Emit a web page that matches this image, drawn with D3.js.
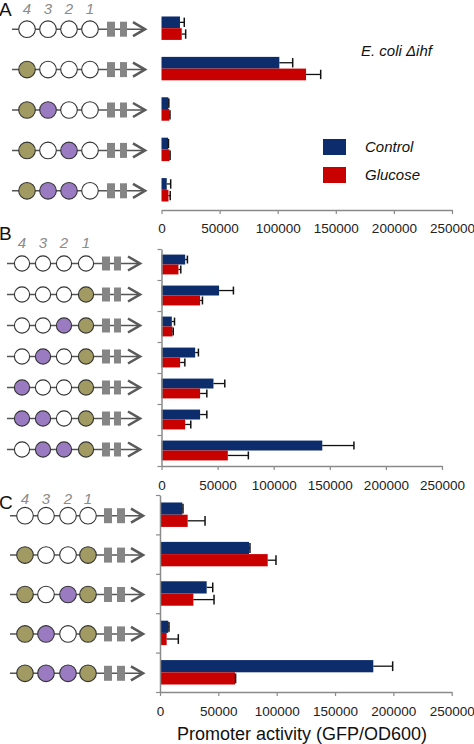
<!DOCTYPE html>
<html><head><meta charset="utf-8">
<script src="https://cdn.jsdelivr.net/npm/d3@7"></script>
<style>
html,body{margin:0;padding:0;background:#fff;}
svg{display:block;font-family:"Liberation Sans",Arial,sans-serif;}
</style></head>
<body>
<svg id="chart" width="474" height="744"></svg>
<script>
// ---------- DATA ----------
const tickValues = [0, 50000, 100000, 150000, 200000, 250000];
const seriesNames = ["Control", "Glucose"];
const siteLabels = ["4", "3", "2", "1"];

// construct states, left (site 4) to right (site 1): o = empty, g = olive, p = purple
const constructsA = ["oooo", "gooo", "gpoo", "gopo", "gppo"];
const controlA = [15900, 101400, 5900, 5600, 4500];
const controlErrA = [3700, 11500, 400, 400, 3400];
const glucoseA = [17400, 124400, 6700, 6900, 6000];
const glucoseErrA = [3400, 12600, 600, 500, 1500];

const constructsB = ["oooo", "ooog", "oopg", "opog", "poog", "ppog", "oppg"];
const controlB = [21100, 51300, 9200, 30000, 46300, 34400, 143300];
const controlErrB = [2000, 12800, 2400, 2900, 10100, 6000, 28200];
const glucoseB = [15100, 34400, 9800, 16600, 34400, 21100, 59100];
const glucoseErrB = [2100, 2100, 700, 4200, 6000, 5000, 18300];

const constructsC = ["oooo", "goog", "gopg", "gpog", "gppg"];
const controlC = [19100, 76300, 40000, 7100, 182800];
const controlErrC = [600, 800, 5200, 600, 16600];
const glucoseC = [23700, 92300, 28600, 5700, 64300];
const glucoseErrC = [14900, 7100, 17700, 10000, 500];

// ---------- STYLE ----------
const colors = { Control: "#0c2c6c", Glucose: "#c80000" };
const siteFill = { o: "#ffffff", g: "#a19a62", p: "#9a7bc2" };
const axisColor = "#8a8a8a";

const svg = d3.select("#chart");

function panel(cfg) {
  const n = cfg.constructs.length;
  const x = d3.scaleLinear().domain([0, 250000]).range([cfg.x0, cfg.x1]);
  const y = d3.scaleBand().domain(d3.range(n)).range([cfg.yTop, cfg.yBot]).paddingInner(cfg.pad).paddingOuter(cfg.pad / 2);
  const sub = d3.scaleBand().domain(seriesNames).range([0, y.bandwidth()]);
  const g = svg.append("g");

  const rows = d3.range(n).map(i => ({
    i,
    vals: [
      { s: "Control", v: cfg.control[i], e: cfg.controlErr[i] },
      { s: "Glucose", v: cfg.glucose[i], e: cfg.glucoseErr[i] }
    ]
  }));

  // bars
  rows.forEach(r => {
    r.vals.forEach(d => {
      const yy = y(r.i) + sub(d.s);
      g.append("rect")
        .attr("x", x(0)).attr("y", yy)
        .attr("width", x(d.v) - x(0)).attr("height", sub.bandwidth())
        .attr("fill", colors[d.s]);
      const cy = yy + sub.bandwidth() / 2;
      g.append("line")
        .attr("x1", x(d.v)).attr("x2", x(d.v + d.e))
        .attr("y1", cy).attr("y2", cy)
        .attr("stroke", "#111").attr("stroke-width", 1.3);
      g.append("line")
        .attr("x1", x(d.v + d.e)).attr("x2", x(d.v + d.e))
        .attr("y1", cy - sub.bandwidth() * 0.4).attr("y2", cy + sub.bandwidth() * 0.4)
        .attr("stroke", "#111").attr("stroke-width", 1.5);
    });
  });

  // x axis
  const xa = g.append("g").attr("transform", `translate(0,${cfg.axisY})`)
    .call(d3.axisBottom(x).tickValues(tickValues).tickFormat(d3.format("d")).tickSize(4).tickPadding(cfg.tickPad).tickSizeOuter(0));
  xa.select(".domain").attr("stroke", axisColor).attr("stroke-width", 1.5);
  xa.selectAll(".tick line").attr("stroke", axisColor).attr("stroke-width", 1.2);
  xa.selectAll(".tick text").attr("fill", "#222").attr("font-size", "13.5px")
    .attr("font-family", "'Liberation Sans',Arial,sans-serif");

  // y axis (row boundaries)
  if (cfg.yAxis) {
    const yb = d3.scaleLinear().domain([0, n]).range([cfg.yTop, cfg.yBot]);
    const ya = g.append("g").attr("transform", `translate(${cfg.x0},0)`)
      .call(d3.axisLeft(yb).tickValues(d3.range(n + 1)).tickFormat("").tickSize(4).tickSizeOuter(0));
    ya.select(".domain").attr("stroke", axisColor).attr("stroke-width", 1.5);
    ya.selectAll(".tick line").attr("stroke", axisColor).attr("stroke-width", 1.2);
  }

  // panel letter and site numbers
  g.append("text").attr("x", -1).attr("y", cfg.letterY).text(cfg.letter)
    .attr("font-size", "19px").attr("fill", "#111");
  siteLabels.forEach((s, k) => {
    g.append("text").attr("x", cfg.cx[k]).attr("y", cfg.numY).text(s)
      .attr("text-anchor", "middle").attr("font-size", "15px").attr("font-style", "italic").attr("fill", "#8a8a8a");
  });

  // construct diagrams
  cfg.constructs.forEach((c, i) => {
    const cy = y(i) + y.bandwidth() / 2 + cfg.dyC;
    const cg = g.append("g");
    cg.append("line").attr("x1", cfg.lineX0).attr("x2", cfg.tip - 1).attr("y1", cy).attr("y2", cy)
      .attr("stroke", "#555").attr("stroke-width", 1.5);
    cfg.rects.forEach(rx => {
      cg.append("rect").attr("x", rx[0]).attr("y", cy - cfg.rh / 2).attr("width", rx[1] - rx[0]).attr("height", cfg.rh)
        .attr("fill", "#858585");
    });
    cg.append("path")
      .attr("d", `M${cfg.tip - 12},${cy - 7} L${cfg.tip},${cy} L${cfg.tip - 12},${cy + 7}`)
      .attr("fill", "none").attr("stroke", "#5a5a5a").attr("stroke-width", 2.6).attr("stroke-linejoin", "miter");
    c.split("").forEach((st, k) => {
      cg.append("circle").attr("cx", cfg.cx[k]).attr("cy", cy).attr("r", cfg.r)
        .attr("fill", siteFill[st]).attr("stroke", "#333").attr("stroke-width", 1.1);
    });
  });
  return { x, y };
}

panel({
  letter: "A", letterY: 16, numY: 14,
  constructs: constructsA, control: controlA, controlErr: controlErrA, glucose: glucoseA, glucoseErr: glucoseErrA,
  x0: 161.5, x1: 452, yTop: 8, yBot: 210, pad: 0.42, axisY: 210, tickPad: 9, yAxis: false,
  cx: [27, 48, 69, 90], r: 8.3, rects: [[107, 115], [120, 127]], rh: 15, lineX0: 12, tip: 145, dyC: 1
});

panel({
  letter: "B", letterY: 240, numY: 248,
  constructs: constructsB, control: controlB, controlErr: controlErrB, glucose: glucoseB, glucoseErr: glucoseErrB,
  x0: 161.5, x1: 442, yTop: 249, yBot: 466, pad: 0.36, axisY: 466, tickPad: 10, yAxis: true,
  cx: [22, 43, 64, 86], r: 7.6, rects: [[102, 110], [114, 121]], rh: 14, lineX0: 7, tip: 140, dyC: -1
});

panel({
  letter: "C", letterY: 509, numY: 504,
  constructs: constructsC, control: controlC, controlErr: controlErrC, glucose: glucoseC, glucoseErr: glucoseErrC,
  x0: 160, x1: 451.7, yTop: 495, yBot: 692, pad: 0.38, axisY: 692, tickPad: 10, yAxis: true,
  cx: [25, 46, 68, 88], r: 8.3, rects: [[104, 112], [117, 125]], rh: 15, lineX0: 10, tip: 143, dyC: 1
});

// legend
const leg = svg.append("g");
seriesNames.forEach((s, k) => {
  leg.append("rect").attr("x", 323).attr("y", 139 + k * 28).attr("width", 23).attr("height", 16).attr("fill", colors[s]);
  leg.append("text").attr("x", 365).attr("y", 152 + k * 28).text(s)
    .attr("font-size", "15px").attr("font-style", "italic").attr("fill", "#111");
});
svg.append("text").attr("x", 361).attr("y", 56).text("E. coli Δihf")
  .attr("font-size", "15px").attr("font-style", "italic").attr("fill", "#111");

// x title
svg.append("text").attr("x", 302).attr("y", 740).attr("text-anchor", "middle")
  .text("Promoter activity (GFP/OD600)").attr("font-size", "18px").attr("fill", "#111");
</script>
</body></html>
